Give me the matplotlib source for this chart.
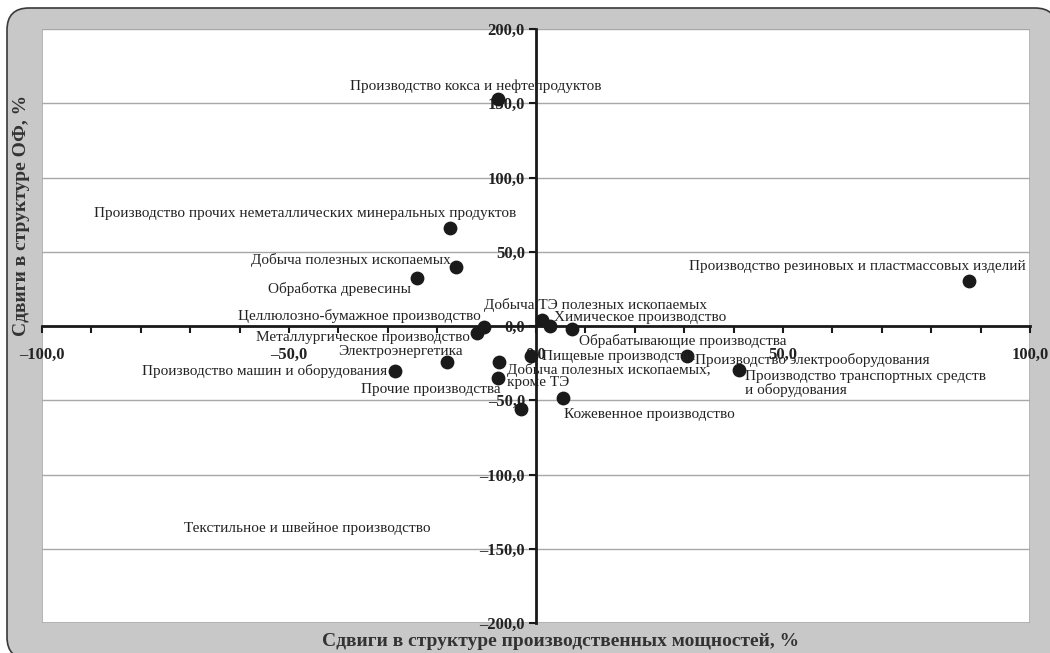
import matplotlib.pyplot as plt
from matplotlib.patches import FancyBboxPatch, Rectangle
from matplotlib.ticker import MultipleLocator, FuncFormatter

plt.rcParams['font.family'] = ['Liberation Serif', 'DejaVu Serif']

# data: shifts in capacity structure (x) and fixed assets structure (y), %
names = [
    "Производство кокса и нефтепродуктов",
    "Производство прочих неметаллических минеральных продуктов",
    "Добыча полезных ископаемых",
    "Обработка древесины",
    "Производство резиновых и пластмассовых изделий",
    "Добыча ТЭ полезных ископаемых",
    "Химическое производство",
    "Обрабатывающие производства",
    "Целлюлозно-бумажное производство",
    "Металлургическое производство",
    "Электроэнергетика",
    "Производство машин и оборудования",
    "Прочие производства",
    "Добыча полезных ископаемых,\nкроме ТЭ",
    "Пищевые производства",
    "Производство электрооборудования",
    "Производство транспортных средств\nи оборудования",
    "Кожевенное производство",
    "Текстильное и швейное производство",
]
x_vals = [-7.7, -17.5, -16.2, -24.0, 87.7, 1.3, 2.9, 7.3, -10.6, -11.9,
          -18.0, -28.5, -7.4, -7.7, -1.1, 30.6, 41.1, 5.5, -3.1]
y_vals = [152.8, 65.8, 39.4, 32.2, 30.4, 4.2, 0.2, -2.0, -0.5, -4.9,
          -24.4, -30.0, -24.4, -35.1, -19.9, -19.9, -29.3, -48.5, -56.2]

# label placement (pixel offsets from the point, alignment)
label_style = [
    (-22, 13, "center"), (-144, 15, "center"), (-5, 7, "right"),
    (-6, -11, "right"), (57, 14, "right"), (-58, 15, "left"),
    (4, 8, "left"), (7, -12, "left"), (-3, 11, "right"),
    (-7, -4, "right"), (16, 11, "right"), (-8, 0, "right"),
    (1, -27, "right"), (9, 2, "left"), (11, -1, "left"),
    (8, -4, "left"), (6, -14, "left"), (1, -16, "left"),
    (-213, -119, "center"),
]

fig = plt.figure(figsize=(10.5, 6.53), dpi=100)

# grey rounded frame behind everything
frame = FancyBboxPatch((0.07, -0.06), 10.5, 6.51,
                       boxstyle="round,pad=0,rounding_size=0.22",
                       transform=fig.dpi_scale_trans,
                       facecolor="#c8c8c8", edgecolor="#3a3a3a", linewidth=1.2,
                       zorder=-10)
fig.patches.append(frame)

ax = fig.add_axes([42 / 1050, 30 / 653, 988 / 1050, 594 / 653])
ax.set_zorder(1)
ax.set_facecolor("white")
ax.set_xlim(-100, 100)
ax.set_ylim(-200, 200)

ax.yaxis.grid(True, color="#a8a8a8", linewidth=1.0)
ax.set_axisbelow(True)

for side in ["top", "right"]:
    ax.spines[side].set_visible(False)
for side in ["left", "bottom"]:
    ax.spines[side].set_position(("data", 0))
    ax.spines[side].set_linewidth(2)
    ax.spines[side].set_color("#1a1a1a")
    ax.spines[side].set_zorder(4)

ax.add_patch(Rectangle((0, 0), 1, 1, transform=ax.transAxes, fill=False,
                       edgecolor="#a8a8a8", linewidth=1.2, zorder=0.5))

fmt = FuncFormatter(lambda v, p: ("%.1f" % v).replace(".", ",").replace("-", "\u2013"))
ax.xaxis.set_major_locator(MultipleLocator(50))
ax.xaxis.set_minor_locator(MultipleLocator(10))
ax.yaxis.set_major_locator(MultipleLocator(50))
ax.xaxis.set_major_formatter(fmt)
ax.yaxis.set_major_formatter(fmt)
ax.tick_params(axis="x", which="both", direction="out", length=5, width=1.5,
               color="#1a1a1a", pad=10)
ax.tick_params(axis="y", which="both", direction="out", length=5, width=1.5,
               color="#1a1a1a", pad=3)
for lab in ax.get_xticklabels() + ax.get_yticklabels():
    lab.set_fontweight("bold")
    lab.set_fontsize(12)
    lab.set_color("#222222")

ax.scatter(x_vals, y_vals, s=80, color="#1a1a1a", zorder=5, clip_on=False)

for name, xv, yv, (dx, dy, ha) in zip(names, x_vals, y_vals, label_style):
    ax.annotate(name, (xv, yv), xytext=(dx, dy), textcoords="offset pixels",
                ha=ha, va="center", fontsize=11, color="#222222",
                linespacing=0.95, zorder=6, annotation_clip=False)

fig.text(561 / 1050, 1 - 642 / 653, "Сдвиги в структуре производственных мощностей, %",
         ha="center", va="center", fontsize=14, fontweight="bold", color="#333333")
fig.text(22 / 1050, 1 - 215 / 653, "Сдвиги в структуре ОФ, %",
         ha="center", va="center", rotation=90, fontsize=14, fontweight="bold",
         color="#333333")

fig.savefig("out.png", dpi=100, facecolor="white")
